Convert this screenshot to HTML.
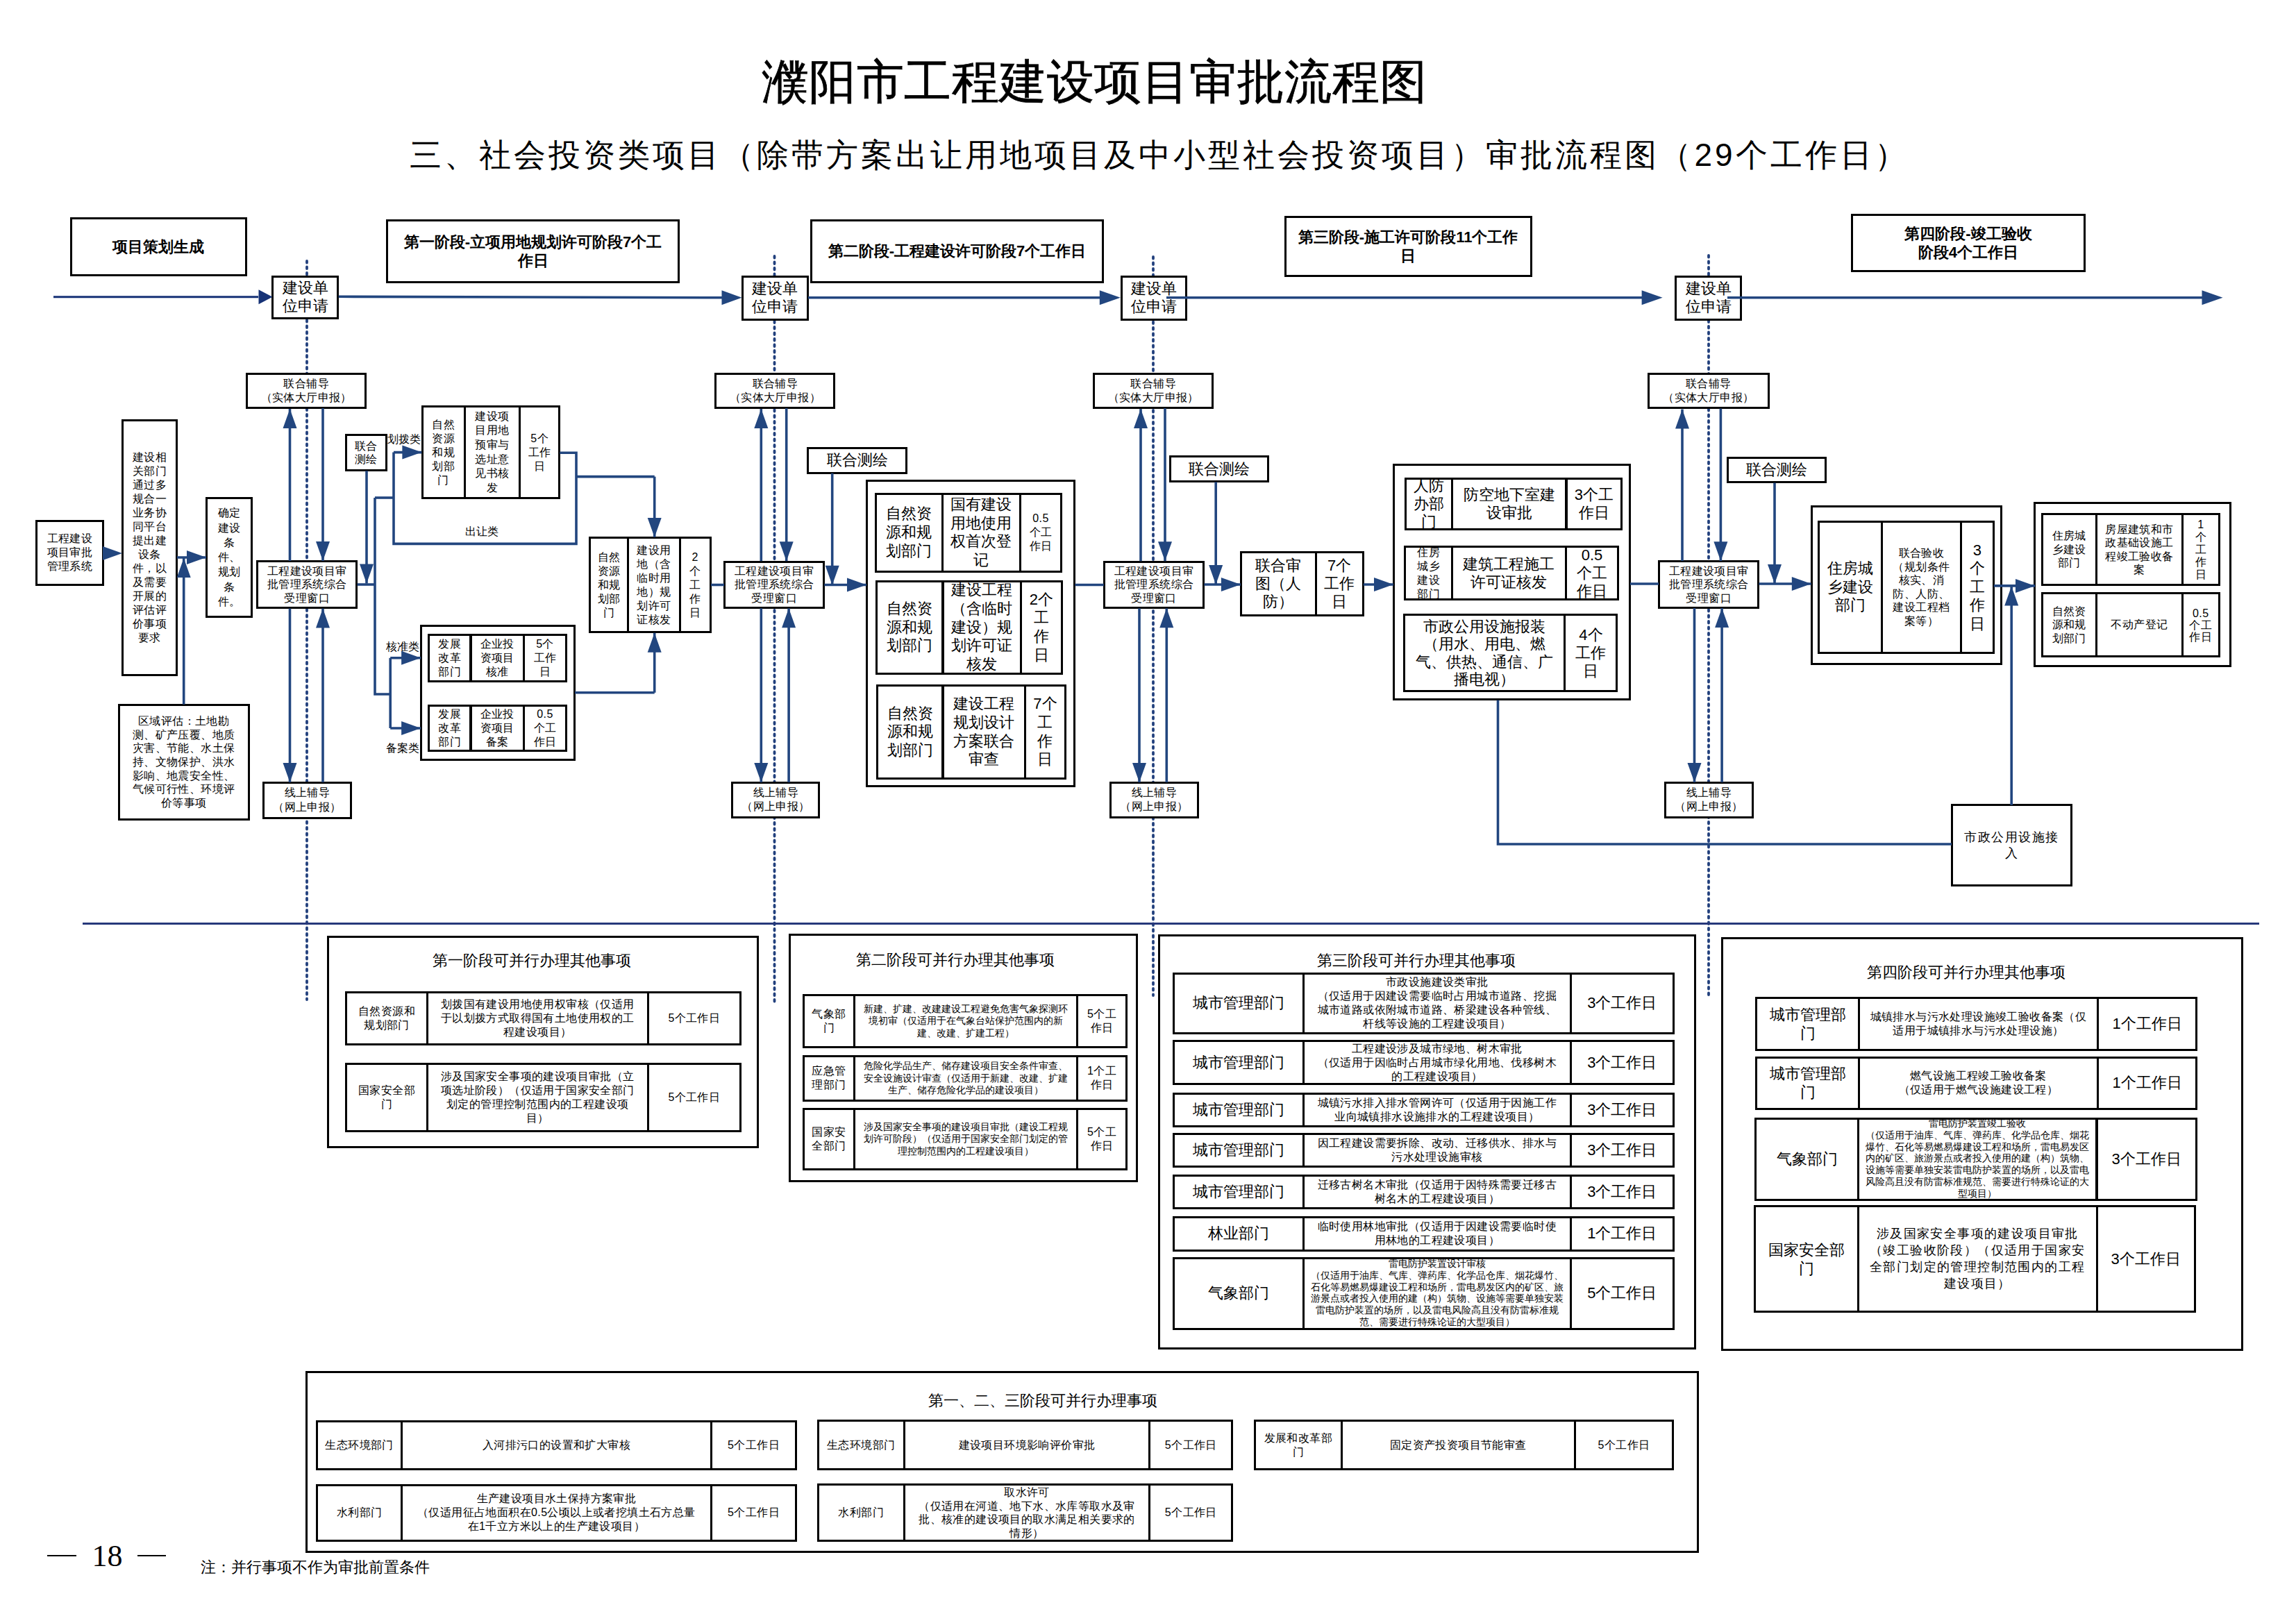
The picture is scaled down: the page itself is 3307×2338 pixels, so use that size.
<!DOCTYPE html>
<html><head><meta charset="utf-8"><title>濮阳市工程建设项目审批流程图</title>
<style>
html,body{margin:0;padding:0;background:#fff;}
body{width:3307px;height:2338px;position:relative;overflow:hidden;font-family:"Liberation Sans",sans-serif;color:#000;}
.b{position:absolute;box-sizing:border-box;border:3px solid #000;background:#fff;display:flex;align-items:center;justify-content:center;text-align:center;white-space:nowrap;overflow:visible;}
.b span{display:block;}
.lbl{position:absolute;transform:translate(-50%,-50%);white-space:nowrap;line-height:1;}
.title{font-family:"Liberation Serif",serif;font-weight:normal;-webkit-text-stroke:0.7px #000;letter-spacing:0.5px;}
.sub{letter-spacing:4px;}
.serif{font-family:"Liberation Serif",serif;}
svg{position:absolute;left:0;top:0;}
</style></head><body>
<svg width="3307" height="2338" style="z-index:0"><line x1="442.0" y1="376.0" x2="442.0" y2="1440.0" stroke="#22407d" stroke-width="3.8" stroke-linecap="round" stroke-dasharray="2.6 5.9"/>
<line x1="1115.5" y1="369.0" x2="1115.5" y2="1446.0" stroke="#22407d" stroke-width="3.8" stroke-linecap="round" stroke-dasharray="2.6 5.9"/>
<line x1="1661.0" y1="370.0" x2="1661.0" y2="1434.0" stroke="#22407d" stroke-width="3.8" stroke-linecap="round" stroke-dasharray="2.6 5.9"/>
<line x1="2461.0" y1="368.0" x2="2461.0" y2="1438.0" stroke="#22407d" stroke-width="3.8" stroke-linecap="round" stroke-dasharray="2.6 5.9"/></svg>
<div class="lbl title" style="left:1576.0px;top:118.0px;font-size:68px;">濮阳市工程建设项目审批流程图</div>
<div class="lbl sub" style="left:1670.0px;top:223.0px;font-size:46px;">三、社会投资类项目（除带方案出让用地项目及中小型社会投资项目）审批流程图（29个工作日）</div>
<div class="b " style="left:101.0px;top:313.0px;width:254.5px;height:84.7px;border-width:3px;"><span style="font-size:22px;line-height:27px;font-weight:bold;font-family:"Liberation Serif",serif;">项目策划生成</span></div>
<div class="b " style="left:556.4px;top:316.0px;width:422.4px;height:91.8px;border-width:3px;"><span style="font-size:22px;line-height:27px;font-weight:bold;font-family:"Liberation Serif",serif;">第一阶段-立项用地规划许可阶段7个工<br>作日</span></div>
<div class="b " style="left:1167.0px;top:316.0px;width:422.9px;height:91.6px;border-width:3px;"><span style="font-size:22px;line-height:27px;font-weight:bold;font-family:"Liberation Serif",serif;">第二阶段-工程建设许可阶段7个工作日</span></div>
<div class="b " style="left:1849.6px;top:311.3px;width:357.1px;height:88.0px;border-width:3px;"><span style="font-size:22px;line-height:27px;font-weight:bold;font-family:"Liberation Serif",serif;">第三阶段-施工许可阶段11个工作<br>日</span></div>
<div class="b " style="left:2666.1px;top:307.9px;width:337.6px;height:83.8px;border-width:3px;"><span style="font-size:22px;line-height:27px;font-weight:bold;font-family:"Liberation Serif",serif;">第四阶段-竣工验收<br>阶段4个工作日</span></div>
<div class="b " style="left:391.2px;top:397.1px;width:96.8px;height:62.7px;border-width:3px;"><span style="font-size:22px;line-height:26px;">建设单<br>位申请</span></div>
<div class="b " style="left:1068.2px;top:397.1px;width:96.4px;height:64.5px;border-width:3px;"><span style="font-size:22px;line-height:26px;">建设单<br>位申请</span></div>
<div class="b " style="left:1613.5px;top:397.1px;width:96.3px;height:64.5px;border-width:3px;"><span style="font-size:22px;line-height:26px;">建设单<br>位申请</span></div>
<div class="b " style="left:2412.4px;top:397.1px;width:96.9px;height:64.5px;border-width:3px;"><span style="font-size:22px;line-height:26px;">建设单<br>位申请</span></div>
<div class="b " style="left:354.2px;top:536.5px;width:174.1px;height:52.4px;border-width:3px;"><span style="font-size:16px;line-height:20px;letter-spacing:0.4px;">联合辅导<br>（实体大厅申报）</span></div>
<div class="b " style="left:369.2px;top:807.2px;width:146.2px;height:70.2px;border-width:3px;"><span style="font-size:16px;line-height:19.7px;letter-spacing:0.4px;">工程建设项目审<br>批管理系统综合<br>受理窗口</span></div>
<div class="b " style="left:378.0px;top:1126.1px;width:129.0px;height:53.6px;border-width:3px;"><span style="font-size:16px;line-height:20.5px;letter-spacing:0.4px;">线上辅导<br>（网上申报）</span></div>
<div class="b " style="left:1029.4px;top:536.5px;width:174.1px;height:52.4px;border-width:3px;"><span style="font-size:16px;line-height:20px;letter-spacing:0.4px;">联合辅导<br>（实体大厅申报）</span></div>
<div class="b " style="left:1042.3px;top:807.5px;width:145.8px;height:69.6px;border-width:3px;"><span style="font-size:16px;line-height:19.7px;letter-spacing:0.4px;">工程建设项目审<br>批管理系统综合<br>受理窗口</span></div>
<div class="b " style="left:1053.3px;top:1126.1px;width:128.1px;height:52.8px;border-width:3px;"><span style="font-size:16px;line-height:20.5px;letter-spacing:0.4px;">线上辅导<br>（网上申报）</span></div>
<div class="b " style="left:1574.1px;top:536.5px;width:174.1px;height:52.4px;border-width:3px;"><span style="font-size:16px;line-height:20px;letter-spacing:0.4px;">联合辅导<br>（实体大厅申报）</span></div>
<div class="b " style="left:1589.0px;top:807.5px;width:146.2px;height:69.6px;border-width:3px;"><span style="font-size:16px;line-height:19.7px;letter-spacing:0.4px;">工程建设项目审<br>批管理系统综合<br>受理窗口</span></div>
<div class="b " style="left:1598.1px;top:1126.1px;width:128.5px;height:52.8px;border-width:3px;"><span style="font-size:16px;line-height:20.5px;letter-spacing:0.4px;">线上辅导<br>（网上申报）</span></div>
<div class="b " style="left:2372.9px;top:536.8px;width:176.0px;height:52.6px;border-width:3px;"><span style="font-size:16px;line-height:20px;letter-spacing:0.4px;">联合辅导<br>（实体大厅申报）</span></div>
<div class="b " style="left:2388.2px;top:807.4px;width:146.0px;height:69.5px;border-width:3px;"><span style="font-size:16px;line-height:19.7px;letter-spacing:0.4px;">工程建设项目审<br>批管理系统综合<br>受理窗口</span></div>
<div class="b " style="left:2397.2px;top:1126.1px;width:128.5px;height:52.6px;border-width:3px;"><span style="font-size:16px;line-height:20.5px;letter-spacing:0.4px;">线上辅导<br>（网上申报）</span></div>
<div class="b " style="left:50.8px;top:748.9px;width:99.1px;height:95.2px;border-width:3px;"><span style="font-size:16px;line-height:20px;letter-spacing:0.4px;">工程建设<br>项目审批<br>管理系统</span></div>
<div class="b " style="left:175.2px;top:604.0px;width:80.4px;height:370.4px;border-width:3px;"><span style="font-size:16px;line-height:20px;letter-spacing:0.4px;">建设相<br>关部门<br>通过多<br>规合一<br>业务协<br>同平台<br>提出建<br>设条<br>件，以<br>及需要<br>开展的<br>评估评<br>价事项<br>要求</span></div>
<div class="b " style="left:296.2px;top:716.1px;width:67.8px;height:173.5px;border-width:3px;"><span style="font-size:16px;line-height:21.3px;letter-spacing:0.4px;">确定<br>建设<br>条<br>件、<br>规划<br>条<br>件。</span></div>
<div class="b " style="left:169.5px;top:1013.9px;width:190.4px;height:168.0px;border-width:3px;"><span style="font-size:16px;line-height:19.7px;letter-spacing:0.4px;">区域评估：土地勘<br>测、矿产压覆、地质<br>灾害、节能、水土保<br>持、文物保护、洪水<br>影响、地震安全性、<br>气候可行性、环境评<br>价等事项</span></div>
<div class="b " style="left:496.8px;top:624.8px;width:61.1px;height:54.2px;border-width:3px;"><span style="font-size:16px;line-height:19px;letter-spacing:0.4px;">联合<br>测绘</span></div>
<div class="lbl " style="left:582.0px;top:633.3px;font-size:16px;">划拨类</div>
<div class="lbl " style="left:694.0px;top:765.9px;font-size:16px;">出让类</div>
<div class="lbl " style="left:580.0px;top:932.0px;font-size:16px;">核准类</div>
<div class="lbl " style="left:580.0px;top:1078.3px;font-size:16px;">备案类</div>
<div class="b " style="left:606.6px;top:584.4px;width:64.3px;height:134.3px;border-width:3px;"><span style="font-size:16px;line-height:20px;letter-spacing:1px">自然<br>资源<br>和规<br>划部<br>门</span></div>
<div class="b " style="left:667.9px;top:584.4px;width:82.3px;height:134.3px;border-width:3px;"><span style="font-size:16px;line-height:20.6px;letter-spacing:0.4px;">建设项<br>目用地<br>预审与<br>选址意<br>见书核<br>发</span></div>
<div class="b " style="left:747.2px;top:584.4px;width:59.9px;height:134.3px;border-width:3px;"><span style="font-size:16px;line-height:20px;letter-spacing:0.4px;">5个<br>工作<br>日</span></div>
<div class="b " style="left:605.3px;top:900.2px;width:223.5px;height:196.0px;border-width:3px;"></div>
<div class="b " style="left:616.3px;top:912.9px;width:63.2px;height:70.6px;border-width:3px;"><span style="font-size:16px;line-height:20px;letter-spacing:0.4px;">发展<br>改革<br>部门</span></div>
<div class="b " style="left:676.5px;top:912.9px;width:79.4px;height:70.6px;border-width:3px;"><span style="font-size:16px;line-height:20px;letter-spacing:0.4px;">企业投<br>资项目<br>核准</span></div>
<div class="b " style="left:752.9px;top:912.9px;width:64.2px;height:70.6px;border-width:3px;"><span style="font-size:16px;line-height:20px;letter-spacing:0.4px;">5个<br>工作<br>日</span></div>
<div class="b " style="left:616.3px;top:1015.3px;width:63.2px;height:67.5px;border-width:3px;"><span style="font-size:16px;line-height:20px;letter-spacing:0.4px;">发展<br>改革<br>部门</span></div>
<div class="b " style="left:676.5px;top:1015.3px;width:79.4px;height:67.5px;border-width:3px;"><span style="font-size:16px;line-height:20px;letter-spacing:0.4px;">企业投<br>资项目<br>备案</span></div>
<div class="b " style="left:752.9px;top:1015.3px;width:64.2px;height:67.5px;border-width:3px;"><span style="font-size:16px;line-height:20px;letter-spacing:0.4px;">0.5<br>个工<br>作日</span></div>
<div class="b " style="left:847.5px;top:773.1px;width:58.9px;height:139.4px;border-width:3px;"><span style="font-size:16px;line-height:20px;letter-spacing:0.4px;">自然<br>资源<br>和规<br>划部<br>门</span></div>
<div class="b " style="left:903.4px;top:773.1px;width:77.4px;height:139.4px;border-width:3px;"><span style="font-size:16px;line-height:20px;letter-spacing:0.4px;">建设用<br>地（含<br>临时用<br>地）规<br>划许可<br>证核发</span></div>
<div class="b " style="left:977.8px;top:773.1px;width:46.9px;height:139.4px;border-width:3px;"><span style="font-size:16px;line-height:20px;letter-spacing:0.4px;">2<br>个<br>工<br>作<br>日</span></div>
<div class="b " style="left:1162.4px;top:644.0px;width:144.5px;height:38.6px;border-width:3px;"><span style="font-size:22px;line-height:26px;">联合测绘</span></div>
<div class="b " style="left:1247.2px;top:691.1px;width:302.0px;height:443.3px;border-width:3px;"></div>
<div class="b " style="left:1259.8px;top:709.9px;width:99.1px;height:115.1px;border-width:3px;"><span style="font-size:22px;line-height:26.7px;">自然资<br>源和规<br>划部门</span></div>
<div class="b " style="left:1355.9px;top:709.9px;width:115.1px;height:115.1px;border-width:3px;"><span style="font-size:22px;line-height:26.7px;">国有建设<br>用地使用<br>权首次登<br>记</span></div>
<div class="b " style="left:1468.0px;top:709.9px;width:62.0px;height:115.1px;border-width:3px;"><span style="font-size:16px;line-height:20px;letter-spacing:0.4px;">0.5<br>个工<br>作日</span></div>
<div class="b " style="left:1260.7px;top:835.9px;width:98.8px;height:136.4px;border-width:3px;"><span style="font-size:22px;line-height:26.7px;">自然资<br>源和规<br>划部门</span></div>
<div class="b " style="left:1356.5px;top:835.9px;width:115.4px;height:136.4px;border-width:3px;"><span style="font-size:22px;line-height:26.7px;">建设工程<br>（含临时<br>建设）规<br>划许可证<br>核发</span></div>
<div class="b " style="left:1468.9px;top:835.9px;width:62.0px;height:136.4px;border-width:3px;"><span style="font-size:22px;line-height:26.7px;">2个<br>工<br>作<br>日</span></div>
<div class="b " style="left:1261.7px;top:986.4px;width:97.8px;height:136.4px;border-width:3px;"><span style="font-size:22px;line-height:26.7px;">自然资<br>源和规<br>划部门</span></div>
<div class="b " style="left:1356.5px;top:986.4px;width:121.7px;height:136.4px;border-width:3px;"><span style="font-size:22px;line-height:26.7px;">建设工程<br>规划设计<br>方案联合<br>审查</span></div>
<div class="b " style="left:1475.2px;top:986.4px;width:60.5px;height:136.4px;border-width:3px;"><span style="font-size:22px;line-height:26.7px;">7个<br>工<br>作<br>日</span></div>
<div class="b " style="left:1683.9px;top:656.4px;width:144.3px;height:38.7px;border-width:3px;"><span style="font-size:22px;line-height:26px;">联合测绘</span></div>
<div class="b " style="left:1786.1px;top:793.7px;width:110.5px;height:94.4px;border-width:3px;"><span style="font-size:22px;line-height:26.1px;">联合审<br>图（人<br>防）</span></div>
<div class="b " style="left:1893.6px;top:793.7px;width:71.0px;height:94.4px;border-width:3px;"><span style="font-size:22px;line-height:26.1px;">7个<br>工作<br>日</span></div>
<div class="b " style="left:2006.2px;top:668.0px;width:342.5px;height:341.3px;border-width:3px;"></div>
<div class="b " style="left:2023.1px;top:688.4px;width:70.3px;height:76.1px;border-width:3px;"><span style="font-size:22px;line-height:26px;">人防<br>办部<br>门</span></div>
<div class="b " style="left:2090.4px;top:688.4px;width:167.1px;height:76.1px;border-width:3px;"><span style="font-size:22px;line-height:26px;">防空地下室建<br>设审批</span></div>
<div class="b " style="left:2254.5px;top:688.4px;width:82.5px;height:76.1px;border-width:3px;"><span style="font-size:22px;line-height:26px;">3个工<br>作日</span></div>
<div class="b " style="left:2022.3px;top:786.4px;width:70.5px;height:78.7px;border-width:3px;"><span style="font-size:16px;line-height:20px;letter-spacing:0.4px;">住房<br>城乡<br>建设<br>部门</span></div>
<div class="b " style="left:2089.8px;top:786.4px;width:166.9px;height:78.7px;border-width:3px;"><span style="font-size:22px;line-height:26px;">建筑工程施工<br>许可证核发</span></div>
<div class="b " style="left:2253.7px;top:786.4px;width:78.6px;height:78.7px;border-width:3px;"><span style="font-size:22px;line-height:26px;">0.5<br>个工<br>作日</span></div>
<div class="b " style="left:2020.5px;top:884.4px;width:234.9px;height:112.6px;border-width:3px;"><span style="font-size:22px;line-height:25.5px;">市政公用设施报装<br>（用水、用电、燃<br>气、供热、通信、广<br>播电视）</span></div>
<div class="b " style="left:2252.4px;top:884.4px;width:78.0px;height:112.6px;border-width:3px;"><span style="font-size:22px;line-height:26px;">4个<br>工作<br>日</span></div>
<div class="b " style="left:2487.2px;top:657.9px;width:143.8px;height:38.4px;border-width:3px;"><span style="font-size:22px;line-height:26px;">联合测绘</span></div>
<div class="b " style="left:2608.0px;top:728.4px;width:276.3px;height:229.4px;border-width:3px;"></div>
<div class="b " style="left:2618.4px;top:749.8px;width:93.4px;height:192.3px;border-width:3px;"><span style="font-size:22px;line-height:26.5px;">住房城<br>乡建设<br>部门</span></div>
<div class="b " style="left:2708.8px;top:749.8px;width:117.2px;height:192.3px;border-width:3px;"><span style="font-size:16px;line-height:19.5px;letter-spacing:0.4px;">联合验收<br>（规划条件<br>核实、消<br>防、人防、<br>建设工程档<br>案等）</span></div>
<div class="b " style="left:2823.0px;top:749.8px;width:49.5px;height:192.3px;border-width:3px;"><span style="font-size:22px;line-height:26.5px;">3<br>个<br>工<br>作<br>日</span></div>
<div class="b " style="left:2929.3px;top:722.9px;width:284.3px;height:238.2px;border-width:3px;"></div>
<div class="b " style="left:2939.5px;top:739.4px;width:81.3px;height:104.5px;border-width:3px;"><span style="font-size:16px;line-height:19.5px;letter-spacing:0.4px;">住房城<br>乡建设<br>部门</span></div>
<div class="b " style="left:3017.8px;top:739.4px;width:127.1px;height:104.5px;border-width:3px;"><span style="font-size:16px;line-height:19.5px;letter-spacing:0.4px;">房屋建筑和市<br>政基础设施工<br>程竣工验收备<br>案</span></div>
<div class="b " style="left:3141.9px;top:739.4px;width:55.8px;height:104.5px;border-width:3px;"><span style="font-size:16px;line-height:18px;letter-spacing:0.4px;">1<br>个<br>工<br>作<br>日</span></div>
<div class="b " style="left:2939.5px;top:853.3px;width:81.3px;height:93.5px;border-width:3px;"><span style="font-size:16px;line-height:19.5px;letter-spacing:0.4px;">自然资<br>源和规<br>划部门</span></div>
<div class="b " style="left:3017.8px;top:853.3px;width:127.1px;height:93.5px;border-width:3px;"><span style="font-size:16px;line-height:19.5px;letter-spacing:0.4px;">不动产登记</span></div>
<div class="b " style="left:3141.9px;top:853.3px;width:55.8px;height:93.5px;border-width:3px;"><span style="font-size:16px;line-height:17px;letter-spacing:0.4px;">0.5<br>个工<br>作日</span></div>
<div class="b " style="left:2809.7px;top:1158.4px;width:175.5px;height:118.5px;border-width:3px;"><span style="font-size:17.5px;line-height:23px;letter-spacing:1.5px">市政公用设施接<br>入</span></div>
<div class="b " style="left:471.1px;top:1347.7px;width:621.6px;height:306.8px;border-width:3px;"></div>
<div class="lbl " style="left:766.3px;top:1383.6px;font-size:22px;">第一阶段可并行办理其他事项</div>
<div class="b " style="left:497.2px;top:1427.5px;width:119.5px;height:78.6px;border-width:3px;"><span style="font-size:16px;line-height:20px;letter-spacing:0.4px;">自然资源和<br>规划部门</span></div>
<div class="b " style="left:613.7px;top:1427.5px;width:321.2px;height:78.6px;border-width:3px;"><span style="font-size:16px;line-height:20px;letter-spacing:0.4px;">划拨国有建设用地使用权审核（仅适用<br>于以划拨方式取得国有土地使用权的工<br>程建设项目）</span></div>
<div class="b " style="left:931.9px;top:1427.5px;width:135.9px;height:78.6px;border-width:3px;"><span style="font-size:16px;line-height:20px;letter-spacing:0.4px;">5个工作日</span></div>
<div class="b " style="left:497.2px;top:1531.2px;width:119.5px;height:100.1px;border-width:3px;"><span style="font-size:16px;line-height:20px;letter-spacing:0.4px;">国家安全部<br>门</span></div>
<div class="b " style="left:613.7px;top:1531.2px;width:321.2px;height:100.1px;border-width:3px;"><span style="font-size:16px;line-height:20px;letter-spacing:0.4px;">涉及国家安全事项的建设项目审批（立<br>项选址阶段）（仅适用于国家安全部门<br>划定的管理控制范围内的工程建设项<br>目）</span></div>
<div class="b " style="left:931.9px;top:1531.2px;width:135.9px;height:100.1px;border-width:3px;"><span style="font-size:16px;line-height:20px;letter-spacing:0.4px;">5个工作日</span></div>
<div class="b " style="left:1135.8px;top:1345.4px;width:503.2px;height:357.2px;border-width:3px;"></div>
<div class="lbl " style="left:1376.1px;top:1382.5px;font-size:22px;">第二阶段可并行办理其他事项</div>
<div class="b " style="left:1156.2px;top:1431.8px;width:75.7px;height:78.7px;border-width:3px;"><span style="font-size:16px;line-height:20px;letter-spacing:0.4px;">气象部<br>门</span></div>
<div class="b " style="left:1228.9px;top:1431.8px;width:324.2px;height:78.7px;border-width:3px;"><span style="font-size:13.7px;line-height:17.4px;">新建、扩建、改建建设工程避免危害气象探测环<br>境初审（仅适用于在气象台站保护范围内的新<br>建、改建、扩建工程）</span></div>
<div class="b " style="left:1550.1px;top:1431.8px;width:73.7px;height:78.7px;border-width:3px;"><span style="font-size:16px;line-height:20px;letter-spacing:0.4px;">5个工<br>作日</span></div>
<div class="b " style="left:1156.2px;top:1520.0px;width:75.7px;height:66.7px;border-width:3px;"><span style="font-size:16px;line-height:20px;letter-spacing:0.4px;">应急管<br>理部门</span></div>
<div class="b " style="left:1228.9px;top:1520.0px;width:324.2px;height:66.7px;border-width:3px;"><span style="font-size:13.7px;line-height:17.4px;">危险化学品生产、储存建设项目安全条件审查、<br>安全设施设计审查（仅适用于新建、改建、扩建<br>生产、储存危险化学品的建设项目）</span></div>
<div class="b " style="left:1550.1px;top:1520.0px;width:73.7px;height:66.7px;border-width:3px;"><span style="font-size:16px;line-height:20px;letter-spacing:0.4px;">1个工<br>作日</span></div>
<div class="b " style="left:1156.2px;top:1596.2px;width:75.7px;height:89.8px;border-width:3px;"><span style="font-size:16px;line-height:20px;letter-spacing:0.4px;">国家安<br>全部门</span></div>
<div class="b " style="left:1228.9px;top:1596.2px;width:324.2px;height:89.8px;border-width:3px;"><span style="font-size:13.7px;line-height:17.4px;">涉及国家安全事项的建设项目审批（建设工程规<br>划许可阶段）（仅适用于国家安全部门划定的管<br>理控制范围内的工程建设项目）</span></div>
<div class="b " style="left:1550.1px;top:1596.2px;width:73.7px;height:89.8px;border-width:3px;"><span style="font-size:16px;line-height:20px;letter-spacing:0.4px;">5个工<br>作日</span></div>
<div class="b " style="left:1668.0px;top:1346.0px;width:774.6px;height:597.9px;border-width:3px;"></div>
<div class="lbl " style="left:2040.3px;top:1384.3px;font-size:22px;">第三阶段可并行办理其他事项</div>
<div class="b " style="left:1689.3px;top:1400.8px;width:189.6px;height:88.8px;border-width:3px;"><span style="font-size:22px;line-height:26px;">城市管理部门</span></div>
<div class="b " style="left:1875.9px;top:1400.8px;width:387.9px;height:88.8px;border-width:3px;"><span style="font-size:16px;line-height:20px;letter-spacing:0.4px;">市政设施建设类审批<br>（仅适用于因建设需要临时占用城市道路、挖掘<br>城市道路或依附城市道路、桥梁建设各种管线、<br>杆线等设施的工程建设项目）</span></div>
<div class="b " style="left:2260.8px;top:1400.8px;width:151.0px;height:88.8px;border-width:3px;"><span style="font-size:22px;line-height:26px;">3个工作日</span></div>
<div class="b " style="left:1689.3px;top:1497.8px;width:189.6px;height:65.5px;border-width:3px;"><span style="font-size:22px;line-height:26px;">城市管理部门</span></div>
<div class="b " style="left:1875.9px;top:1497.8px;width:387.9px;height:65.5px;border-width:3px;"><span style="font-size:16px;line-height:20px;letter-spacing:0.4px;">工程建设涉及城市绿地、树木审批<br>（仅适用于因临时占用城市绿化用地、伐移树木<br>的工程建设项目）</span></div>
<div class="b " style="left:2260.8px;top:1497.8px;width:151.0px;height:65.5px;border-width:3px;"><span style="font-size:22px;line-height:26px;">3个工作日</span></div>
<div class="b " style="left:1689.3px;top:1573.6px;width:189.6px;height:50.9px;border-width:3px;"><span style="font-size:22px;line-height:26px;">城市管理部门</span></div>
<div class="b " style="left:1875.9px;top:1573.6px;width:387.9px;height:50.9px;border-width:3px;"><span style="font-size:16px;line-height:20px;letter-spacing:0.4px;">城镇污水排入排水管网许可（仅适用于因施工作<br>业向城镇排水设施排水的工程建设项目）</span></div>
<div class="b " style="left:2260.8px;top:1573.6px;width:151.0px;height:50.9px;border-width:3px;"><span style="font-size:22px;line-height:26px;">3个工作日</span></div>
<div class="b " style="left:1689.3px;top:1631.9px;width:189.6px;height:50.5px;border-width:3px;"><span style="font-size:22px;line-height:26px;">城市管理部门</span></div>
<div class="b " style="left:1875.9px;top:1631.9px;width:387.9px;height:50.5px;border-width:3px;"><span style="font-size:16px;line-height:20px;letter-spacing:0.4px;">因工程建设需要拆除、改动、迁移供水、排水与<br>污水处理设施审核</span></div>
<div class="b " style="left:2260.8px;top:1631.9px;width:151.0px;height:50.5px;border-width:3px;"><span style="font-size:22px;line-height:26px;">3个工作日</span></div>
<div class="b " style="left:1689.3px;top:1691.9px;width:189.6px;height:50.1px;border-width:3px;"><span style="font-size:22px;line-height:26px;">城市管理部门</span></div>
<div class="b " style="left:1875.9px;top:1691.9px;width:387.9px;height:50.1px;border-width:3px;"><span style="font-size:16px;line-height:20px;letter-spacing:0.4px;">迁移古树名木审批（仅适用于因特殊需要迁移古<br>树名木的工程建设项目）</span></div>
<div class="b " style="left:2260.8px;top:1691.9px;width:151.0px;height:50.1px;border-width:3px;"><span style="font-size:22px;line-height:26px;">3个工作日</span></div>
<div class="b " style="left:1689.3px;top:1751.8px;width:189.6px;height:50.9px;border-width:3px;"><span style="font-size:22px;line-height:26px;">林业部门</span></div>
<div class="b " style="left:1875.9px;top:1751.8px;width:387.9px;height:50.9px;border-width:3px;"><span style="font-size:16px;line-height:20px;letter-spacing:0.4px;">临时使用林地审批（仅适用于因建设需要临时使<br>用林地的工程建设项目）</span></div>
<div class="b " style="left:2260.8px;top:1751.8px;width:151.0px;height:50.9px;border-width:3px;"><span style="font-size:22px;line-height:26px;">1个工作日</span></div>
<div class="b " style="left:1689.3px;top:1811.0px;width:189.6px;height:104.5px;border-width:3px;"><span style="font-size:22px;line-height:26px;">气象部门</span></div>
<div class="b " style="left:1875.9px;top:1811.0px;width:387.9px;height:104.5px;border-width:3px;"><span style="font-size:13.7px;line-height:16.7px;">雷电防护装置设计审核<br>（仅适用于油库、气库、弹药库、化学品仓库、烟花爆竹、<br>石化等易燃易爆建设工程和场所，雷电易发区内的矿区、旅<br>游景点或者投入使用的建（构）筑物、设施等需要单独安装<br>雷电防护装置的场所，以及雷电风险高且没有防雷标准规<br>范、需要进行特殊论证的大型项目）</span></div>
<div class="b " style="left:2260.8px;top:1811.0px;width:151.0px;height:104.5px;border-width:3px;"><span style="font-size:22px;line-height:26px;">5个工作日</span></div>
<div class="b " style="left:2478.9px;top:1349.6px;width:751.7px;height:596.3px;border-width:3px;"></div>
<div class="lbl " style="left:2832.3px;top:1400.8px;font-size:22px;">第四阶段可并行办理其他事项</div>
<div class="b " style="left:2528.2px;top:1436.3px;width:151.0px;height:77.7px;border-width:3px;"><span style="font-size:22px;line-height:27px;">城市管理部<br>门</span></div>
<div class="b " style="left:2676.2px;top:1436.3px;width:346.5px;height:77.7px;border-width:3px;"><span style="font-size:16px;line-height:20px;letter-spacing:0.4px;">城镇排水与污水处理设施竣工验收备案（仅<br>适用于城镇排水与污水处理设施）</span></div>
<div class="b " style="left:3019.7px;top:1436.3px;width:145.8px;height:77.7px;border-width:3px;"><span style="font-size:22px;line-height:26px;">1个工作日</span></div>
<div class="b " style="left:2528.2px;top:1521.5px;width:151.0px;height:77.3px;border-width:3px;"><span style="font-size:22px;line-height:27px;">城市管理部<br>门</span></div>
<div class="b " style="left:2676.2px;top:1521.5px;width:346.5px;height:77.3px;border-width:3px;"><span style="font-size:16px;line-height:20px;letter-spacing:0.4px;">燃气设施工程竣工验收备案<br>（仅适用于燃气设施建设工程）</span></div>
<div class="b " style="left:3019.7px;top:1521.5px;width:145.8px;height:77.3px;border-width:3px;"><span style="font-size:22px;line-height:26px;">1个工作日</span></div>
<div class="b " style="left:2527.2px;top:1609.8px;width:151.2px;height:120.0px;border-width:3px;"><span style="font-size:22px;line-height:26px;">气象部门</span></div>
<div class="b " style="left:2675.4px;top:1609.8px;width:346.1px;height:120.0px;border-width:3px;"><span style="font-size:13.7px;line-height:16.7px;">雷电防护装置竣工验收<br>（仅适用于油库、气库、弹药库、化学品仓库、烟花<br>爆竹、石化等易燃易爆建设工程和场所，雷电易发区<br>内的矿区、旅游景点或者投入使用的建（构）筑物、<br>设施等需要单独安装雷电防护装置的场所，以及雷电<br>风险高且没有防雷标准规范、需要进行特殊论证的大<br>型项目）</span></div>
<div class="b " style="left:3018.5px;top:1609.8px;width:146.3px;height:120.0px;border-width:3px;"><span style="font-size:22px;line-height:26px;">3个工作日</span></div>
<div class="b " style="left:2526.2px;top:1736.4px;width:151.8px;height:155.0px;border-width:3px;"><span style="font-size:22px;line-height:27px;">国家安全部<br>门</span></div>
<div class="b " style="left:2675.0px;top:1736.4px;width:346.5px;height:155.0px;border-width:3px;"><span style="font-size:18px;line-height:23.7px;letter-spacing:1.4px">涉及国家安全事项的建设项目审批<br>（竣工验收阶段）（仅适用于国家安<br>全部门划定的管理控制范围内的工程<br>建设项目）</span></div>
<div class="b " style="left:3018.5px;top:1736.4px;width:144.3px;height:155.0px;border-width:3px;"><span style="font-size:22px;line-height:26px;">3个工作日</span></div>
<div class="b " style="left:440.2px;top:1974.8px;width:2007.1px;height:262.4px;border-width:3px;"></div>
<div class="lbl " style="left:1502.2px;top:2017.6px;font-size:22px;">第一、二、三阶段可并行办理事项</div>
<div class="b " style="left:454.9px;top:2046.1px;width:125.3px;height:72.4px;border-width:3px;"><span style="font-size:16px;line-height:20px;letter-spacing:0.4px;">生态环境部门</span></div>
<div class="b " style="left:577.2px;top:2046.1px;width:448.4px;height:72.4px;border-width:3px;"><span style="font-size:16px;line-height:20px;letter-spacing:0.4px;">入河排污口的设置和扩大审核</span></div>
<div class="b " style="left:1022.6px;top:2046.1px;width:125.8px;height:72.4px;border-width:3px;"><span style="font-size:16px;line-height:20px;letter-spacing:0.4px;">5个工作日</span></div>
<div class="b " style="left:454.9px;top:2137.6px;width:125.3px;height:83.8px;border-width:3px;"><span style="font-size:16px;line-height:20px;letter-spacing:0.4px;">水利部门</span></div>
<div class="b " style="left:577.2px;top:2137.6px;width:448.4px;height:83.8px;border-width:3px;"><span style="font-size:16px;line-height:20px;letter-spacing:0.4px;">生产建设项目水土保持方案审批<br>（仅适用征占地面积在0.5公顷以上或者挖填土石方总量<br>在1千立方米以上的生产建设项目）</span></div>
<div class="b " style="left:1022.6px;top:2137.6px;width:125.8px;height:83.8px;border-width:3px;"><span style="font-size:16px;line-height:20px;letter-spacing:0.4px;">5个工作日</span></div>
<div class="b " style="left:1176.8px;top:2045.0px;width:127.0px;height:73.4px;border-width:3px;"><span style="font-size:16px;line-height:20px;letter-spacing:0.4px;">生态环境部门</span></div>
<div class="b " style="left:1300.8px;top:2045.0px;width:356.4px;height:73.4px;border-width:3px;"><span style="font-size:16px;line-height:20px;letter-spacing:0.4px;">建设项目环境影响评价审批</span></div>
<div class="b " style="left:1654.2px;top:2045.0px;width:122.2px;height:73.4px;border-width:3px;"><span style="font-size:16px;line-height:20px;letter-spacing:0.4px;">5个工作日</span></div>
<div class="b " style="left:1176.8px;top:2137.4px;width:127.0px;height:83.9px;border-width:3px;"><span style="font-size:16px;line-height:20px;letter-spacing:0.4px;">水利部门</span></div>
<div class="b " style="left:1300.8px;top:2137.4px;width:356.4px;height:83.9px;border-width:3px;"><span style="font-size:16px;line-height:19.5px;letter-spacing:0.4px;">取水许可<br>（仅适用在河道、地下水、水库等取水及审<br>批、核准的建设项目的取水满足相关要求的<br>情形）</span></div>
<div class="b " style="left:1654.2px;top:2137.4px;width:122.2px;height:83.9px;border-width:3px;"><span style="font-size:16px;line-height:20px;letter-spacing:0.4px;">5个工作日</span></div>
<div class="b " style="left:1806.0px;top:2045.0px;width:127.5px;height:73.4px;border-width:3px;"><span style="font-size:16px;line-height:20px;letter-spacing:0.4px;">发展和改革部<br>门</span></div>
<div class="b " style="left:1930.5px;top:2045.0px;width:339.4px;height:73.4px;border-width:3px;"><span style="font-size:16px;line-height:20px;letter-spacing:0.4px;">固定资产投资项目节能审查</span></div>
<div class="b " style="left:2266.9px;top:2045.0px;width:144.0px;height:73.4px;border-width:3px;"><span style="font-size:16px;line-height:20px;letter-spacing:0.4px;">5个工作日</span></div>
<div style="position:absolute;left:68.3px;top:2239.6px;width:41.8px;height:2px;background:#000"></div>
<div style="position:absolute;left:197.6px;top:2239.6px;width:41.1px;height:2px;background:#000"></div>
<div class="lbl serif" style="left:154.5px;top:2242.0px;font-size:44px;">18</div>
<div class="lbl serif" style="left:453.5px;top:2257.6px;font-size:22px;">注：并行事项不作为审批前置条件</div>
<svg width="3307" height="2338" style="z-index:2;pointer-events:none"><path d="M77.0 427.8 L372.0 427.8" stroke="#163276" stroke-width="3" fill="none" stroke-linejoin="miter"/>
<polygon points="392.5,427.8 372.5,417.3 372.5,438.3" fill="#163276"/>
<path d="M487.7 427.3 L1045.0 428.8" stroke="#22467f" stroke-width="3.6" fill="none" stroke-linejoin="miter"/>
<polygon points="1068.5,428.8 1039.5,418.3 1039.5,439.3" fill="#22467f"/>
<path d="M1164.0 428.8 L1590.0 428.8" stroke="#22467f" stroke-width="3.6" fill="none" stroke-linejoin="miter"/>
<polygon points="1613.8,428.8 1583.8,418.3 1583.8,439.3" fill="#22467f"/>
<path d="M1680.0 428.8 L2370.0 428.8" stroke="#22467f" stroke-width="3.6" fill="none" stroke-linejoin="miter"/>
<polygon points="2394.6,428.8 2364.6,418.3 2364.6,439.3" fill="#22467f"/>
<path d="M2488.0 428.8 L3180.0 428.8" stroke="#22467f" stroke-width="3.6" fill="none" stroke-linejoin="miter"/>
<polygon points="3201.5,428.8 3171.5,418.3 3171.5,439.3" fill="#22467f"/>
<path d="M417.5 808.0 L417.5 589.1" stroke="#22467f" stroke-width="3.6" fill="none" stroke-linejoin="miter"/>
<polygon points="417.5,589.1 407.5,617.1 427.5,617.1" fill="#22467f"/>
<path d="M465.0 588.1 L465.0 808.0" stroke="#22467f" stroke-width="3.6" fill="none" stroke-linejoin="miter"/>
<polygon points="465.0,808.0 455.0,780.0 475.0,780.0" fill="#22467f"/>
<path d="M417.5 876.6 L417.5 1126.9" stroke="#22467f" stroke-width="3.6" fill="none" stroke-linejoin="miter"/>
<polygon points="417.5,1126.9 407.5,1098.9 427.5,1098.9" fill="#22467f"/>
<path d="M465.0 1126.9 L465.0 876.6" stroke="#22467f" stroke-width="3.6" fill="none" stroke-linejoin="miter"/>
<polygon points="465.0,876.6 455.0,904.6 475.0,904.6" fill="#22467f"/>
<path d="M1096.3 808.3 L1096.3 589.1" stroke="#22467f" stroke-width="3.6" fill="none" stroke-linejoin="miter"/>
<polygon points="1096.3,589.1 1086.3,617.1 1106.3,617.1" fill="#22467f"/>
<path d="M1132.7 588.1 L1132.7 808.3" stroke="#22467f" stroke-width="3.6" fill="none" stroke-linejoin="miter"/>
<polygon points="1132.7,808.3 1122.7,780.3 1142.7,780.3" fill="#22467f"/>
<path d="M1096.3 876.3 L1096.3 1126.9" stroke="#22467f" stroke-width="3.6" fill="none" stroke-linejoin="miter"/>
<polygon points="1096.3,1126.9 1086.3,1098.9 1106.3,1098.9" fill="#22467f"/>
<path d="M1136.1 1126.9 L1136.1 876.3" stroke="#22467f" stroke-width="3.6" fill="none" stroke-linejoin="miter"/>
<polygon points="1136.1,876.3 1126.1,904.3 1146.1,904.3" fill="#22467f"/>
<path d="M1643.0 808.3 L1643.0 589.1" stroke="#22467f" stroke-width="3.6" fill="none" stroke-linejoin="miter"/>
<polygon points="1643.0,589.1 1633.0,617.1 1653.0,617.1" fill="#22467f"/>
<path d="M1678.0 588.1 L1678.0 808.3" stroke="#22467f" stroke-width="3.6" fill="none" stroke-linejoin="miter"/>
<polygon points="1678.0,808.3 1668.0,780.3 1688.0,780.3" fill="#22467f"/>
<path d="M1641.0 876.3 L1641.0 1126.9" stroke="#22467f" stroke-width="3.6" fill="none" stroke-linejoin="miter"/>
<polygon points="1641.0,1126.9 1631.0,1098.9 1651.0,1098.9" fill="#22467f"/>
<path d="M1680.3 1126.9 L1680.3 876.3" stroke="#22467f" stroke-width="3.6" fill="none" stroke-linejoin="miter"/>
<polygon points="1680.3,876.3 1670.3,904.3 1690.3,904.3" fill="#22467f"/>
<path d="M2423.0 808.2 L2423.0 589.6" stroke="#22467f" stroke-width="3.6" fill="none" stroke-linejoin="miter"/>
<polygon points="2423.0,589.6 2413.0,617.6 2433.0,617.6" fill="#22467f"/>
<path d="M2478.4 588.6 L2478.4 808.2" stroke="#22467f" stroke-width="3.6" fill="none" stroke-linejoin="miter"/>
<polygon points="2478.4,808.2 2468.4,780.2 2488.4,780.2" fill="#22467f"/>
<path d="M2440.5 876.1 L2440.5 1126.9" stroke="#22467f" stroke-width="3.6" fill="none" stroke-linejoin="miter"/>
<polygon points="2440.5,1126.9 2430.5,1098.9 2450.5,1098.9" fill="#22467f"/>
<path d="M2480.1 1126.9 L2480.1 876.1" stroke="#22467f" stroke-width="3.6" fill="none" stroke-linejoin="miter"/>
<polygon points="2480.1,876.1 2470.1,904.1 2490.1,904.1" fill="#22467f"/>
<polygon points="176.0,797.0 148.0,787.0 148.0,807.0" fill="#22467f"/>
<path d="M254.8 803.0 L297.0 803.0" stroke="#22467f" stroke-width="3.6" fill="none" stroke-linejoin="miter"/>
<polygon points="297.0,803.0 269.0,793.0 269.0,813.0" fill="#22467f"/>
<path d="M264.7 1014.7 L264.7 804.0" stroke="#22467f" stroke-width="3.6" fill="none" stroke-linejoin="miter"/>
<polygon points="264.7,804.0 254.7,832.0 274.7,832.0" fill="#22467f"/>
<path d="M514.6 842.0 L540.0 842.0" stroke="#22467f" stroke-width="3.6" fill="none" stroke-linejoin="miter"/>
<path d="M528.0 678.2 L528.0 840.5" stroke="#22467f" stroke-width="3.6" fill="none" stroke-linejoin="miter"/>
<polygon points="528.0,840.5 518.0,812.5 538.0,812.5" fill="#22467f"/>
<path d="M540.0 717.0 L540.0 1000.0 L562.2 1000.0" stroke="#22467f" stroke-width="3.6" fill="none" stroke-linejoin="miter"/>
<path d="M540.0 717.0 L567.0 717.0" stroke="#22467f" stroke-width="3.6" fill="none" stroke-linejoin="miter"/>
<path d="M567.0 651.6 L567.0 783.4 L830.0 783.4 L830.0 652.3 L806.3 652.3" stroke="#22467f" stroke-width="3.6" fill="none" stroke-linejoin="miter"/>
<path d="M567.0 651.6 L607.4 651.6" stroke="#22467f" stroke-width="3.6" fill="none" stroke-linejoin="miter"/>
<polygon points="607.4,651.6 579.4,641.6 579.4,661.6" fill="#22467f"/>
<path d="M830.0 686.6 L942.7 686.6" stroke="#22467f" stroke-width="3.6" fill="none" stroke-linejoin="miter"/>
<path d="M942.7 686.6 L942.7 773.9" stroke="#22467f" stroke-width="3.6" fill="none" stroke-linejoin="miter"/>
<polygon points="942.7,773.9 932.7,745.9 952.7,745.9" fill="#22467f"/>
<path d="M562.2 947.8 L562.2 1049.0" stroke="#22467f" stroke-width="3.6" fill="none" stroke-linejoin="miter"/>
<path d="M562.2 947.8 L606.1 947.8" stroke="#22467f" stroke-width="3.6" fill="none" stroke-linejoin="miter"/>
<polygon points="606.1,947.8 578.1,937.8 578.1,957.8" fill="#22467f"/>
<path d="M562.2 1049.0 L606.1 1049.0" stroke="#22467f" stroke-width="3.6" fill="none" stroke-linejoin="miter"/>
<polygon points="606.1,1049.0 578.1,1039.0 578.1,1059.0" fill="#22467f"/>
<path d="M828.0 997.8 L942.7 997.8" stroke="#22467f" stroke-width="3.6" fill="none" stroke-linejoin="miter"/>
<path d="M942.7 997.8 L942.7 911.7" stroke="#22467f" stroke-width="3.6" fill="none" stroke-linejoin="miter"/>
<polygon points="942.7,911.7 932.7,939.7 952.7,939.7" fill="#22467f"/>
<path d="M1023.9 842.5 L1043.1 842.5" stroke="#22467f" stroke-width="3.6" fill="none" stroke-linejoin="miter"/>
<path d="M1187.3 842.5 L1248.0 842.5" stroke="#22467f" stroke-width="3.6" fill="none" stroke-linejoin="miter"/>
<polygon points="1248.0,842.5 1220.0,832.5 1220.0,852.5" fill="#22467f"/>
<path d="M1198.7 681.8 L1198.7 842.7" stroke="#22467f" stroke-width="3.6" fill="none" stroke-linejoin="miter"/>
<polygon points="1198.7,842.7 1188.7,814.7 1208.7,814.7" fill="#22467f"/>
<path d="M1548.4 842.5 L1589.8 842.5" stroke="#22467f" stroke-width="3.6" fill="none" stroke-linejoin="miter"/>
<path d="M1751.2 694.3 L1751.2 842.0" stroke="#22467f" stroke-width="3.6" fill="none" stroke-linejoin="miter"/>
<polygon points="1751.2,842.0 1741.2,814.0 1761.2,814.0" fill="#22467f"/>
<path d="M1734.4 842.0 L1786.9 842.0" stroke="#22467f" stroke-width="3.6" fill="none" stroke-linejoin="miter"/>
<polygon points="1786.9,842.0 1758.9,832.0 1758.9,852.0" fill="#22467f"/>
<path d="M1963.8 842.0 L2007.0 842.0" stroke="#22467f" stroke-width="3.6" fill="none" stroke-linejoin="miter"/>
<polygon points="2007.0,842.0 1979.0,832.0 1979.0,852.0" fill="#22467f"/>
<path d="M2347.9 841.0 L2389.0 841.0" stroke="#22467f" stroke-width="3.6" fill="none" stroke-linejoin="miter"/>
<path d="M2157.5 1008.5 L2157.5 1216.0 L2811.0 1216.0" stroke="#22467f" stroke-width="3.6" fill="none" stroke-linejoin="miter"/>
<path d="M2556.0 695.5 L2556.0 841.0" stroke="#22467f" stroke-width="3.6" fill="none" stroke-linejoin="miter"/>
<polygon points="2556.0,841.0 2546.0,813.0 2566.0,813.0" fill="#22467f"/>
<path d="M2533.4 841.0 L2608.8 841.0" stroke="#22467f" stroke-width="3.6" fill="none" stroke-linejoin="miter"/>
<polygon points="2608.8,841.0 2580.8,831.0 2580.8,851.0" fill="#22467f"/>
<path d="M2871.7 843.9 L2931.0 843.9" stroke="#22467f" stroke-width="3.6" fill="none" stroke-linejoin="miter"/>
<polygon points="2931.0,843.9 2903.0,833.9 2903.0,853.9" fill="#22467f"/>
<path d="M2897.2 1159.8 L2897.2 844.5" stroke="#22467f" stroke-width="3.6" fill="none" stroke-linejoin="miter"/>
<polygon points="2897.2,844.5 2887.2,872.5 2907.2,872.5" fill="#22467f"/>
<line x1="119" y1="1330.5" x2="3254" y2="1330.5" stroke="#26387a" stroke-width="2.8"/></svg>
</body></html>
